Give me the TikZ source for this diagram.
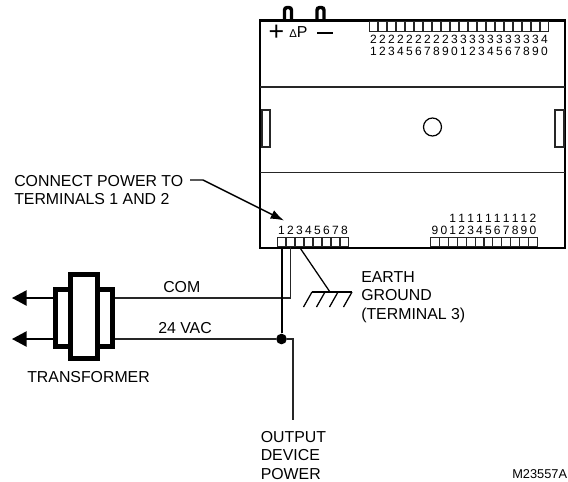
\documentclass[tikz,border=0pt]{standalone}
\usepackage{fontspec}
\setmainfont{Liberation Sans}
\usetikzlibrary{arrows.meta}
\tikzset{
    label/.style={inner sep=0pt, align=left, anchor=west, font=\fontsize{11.9pt}{13.8pt}\selectfont},
    digit/.style={inner sep=0pt, font=\fontsize{9pt}{11pt}\selectfont},
    term/.style={draw=black!85, line width=0.7pt, minimum width=6.6pt, minimum height=7pt, inner sep=0pt},
    case/.style={line width=2pt},
    wire/.style={line width=1.1pt, black!85},
    feed/.style={line width=1.5pt},
    port/.style={line width=2.6pt, rounded corners=2pt},
    coil/.style={draw, line width=3.75pt, inner sep=0pt},
    tip/.style={-{Triangle[length=11pt,width=11.5pt]}, line width=1.1pt}
}
\begin{document}
\begin{tikzpicture}[x=0.75pt,y=-0.75pt]
    \useasboundingbox (0,0) rectangle (568,482);

    % housing
    \coordinate (nw) at (260,20.5);
    \coordinate (ne) at (565,20.5);
    \coordinate (sw) at (260,248);
    \coordinate (se) at (565,248);
    \draw[case] (sw) -- (nw) -- (ne) -- (se) -- cycle;
    \draw[wire] (260,87) -- (565,87);
    \draw[wire] (260,172.5) -- (565,172.5);
    \draw[wire] (262,110) rectangle (270,147);
    \draw[wire] (555,110) rectangle (564,147);
    \node[draw, circle, line width=0.9pt, minimum size=13.5pt, inner sep=0pt] at (432.5,127) (knob) {};

    % pressure ports
    \draw[port] (284.5,20) -- (284.5,7.5) -- (291.5,7.5) -- (291.5,20);
    \draw[port] (317,20) -- (317,7.5) -- (324,7.5) -- (324,20);
    \node[inner sep=0pt, font=\fontsize{20pt}{20pt}\selectfont] at (276.5,33) (plus) {+};
    \node[inner sep=0pt, font=\fontsize{11.9pt}{13pt}\selectfont] at (298.5,32.5) (dp) {{\fontsize{8.5pt}{10pt}\selectfont Δ}P};
    \draw[line width=2.2pt] (317,33) -- (333,33);

    % top terminals
    \foreach \i/\a/\b in {0/2/1,1/2/2,2/2/3,3/2/4,4/2/5,5/2/6,6/2/7,7/2/8,8/2/9,9/3/0,
                          10/3/1,11/3/2,12/3/3,13/3/4,14/3/5,15/3/6,16/3/7,17/3/8,18/3/9,19/4/0} {
        \node[term] at ({373.5+9*\i},26.5) (t\i) {};
        \node[digit] at ({373.5+9*\i},39) (ta\i) {\a};
        \node[digit] at ({373.5+9*\i},51.5) (tb\i) {\b};
    }

    % bottom terminals
    \foreach \i in {1,...,8} {
        \node[term] at ({272.5+9*\i},242) (b\i) {};
        \node[digit] at ({272.5+9*\i},230.5) (n\i) {\i};
    }
    \foreach \i/\a/\b in {0//9,1//0,2/1/1,3/1/2,4/1/3,5/1/4,6/1/5,7/1/6,8/1/7,9/1/8,10/1/9,11/2/0} {
        \node[term] at ({435+8.9*\i},242) (c\i) {};
        \node[digit] at ({435+8.9*\i},230.5) (m\i) {\b};
        \node[digit] at ({435+8.9*\i},218) (k\i) {\a};
    }

    % transformer
    \node[coil, minimum width=42.75pt, minimum height=42.75pt] at (84,318) (side) {};
    \node[coil, fill=white, minimum width=20.25pt, minimum height=63pt] at (84,316.5) (core) {};
    \coordinate (lcom) at (53,298);
    \coordinate (lvac) at (53,339);
    \coordinate (rcom) at (115,298);
    \coordinate (rvac) at (115,339);
    \coordinate (tipcom) at (12,298);
    \coordinate (tipvac) at (12,339);
    \draw[tip] (lcom) -- (tipcom);
    \draw[tip] (lvac) -- (tipvac);

    % wiring
    \node[fill, circle, inner sep=0pt, minimum size=8pt] at (281.5,339) (dot) {};
    \draw[wire] (rcom) -| (b2.south);
    \draw[wire] (rvac) -- (dot);
    \coordinate (out) at (293,420);
    \draw[wire] (dot) -| (out);
    \draw[feed] (b1.south) -- (dot);

    % earth ground
    \coordinate (gnd) at (330,292);
    \draw[line width=0.95pt] (b3.south) -- (gnd);
    \draw[line width=0.95pt] (312,292) -- (352,292);
    \foreach \x in {312,325,338,352} {
        \draw[line width=0.95pt] (\x,292) -- ({\x-8.5},307);
    }

    % callout
    \coordinate (bend) at (203,180);
    \draw[-{Latex[length=10pt,width=7pt]}, line width=1.1pt] (190,180) -- (bend) -- (284,220.5);

    % labels
    \node[label] at (14,190) (conn) {CONNECT POWER TO\\TERMINALS 1 AND 2};
    \node[label] at (163,287) (com) {COM};
    \node[label] at (158,328) (vac) {24 VAC};
    \node[label] at (27,377.5) (xfmr) {TRANSFORMER};
    \node[label] at (361,297) (earth) {EARTH\\GROUND\\(TERMINAL 3)};
    \node[label] at (260.5,455.5) (outp) {OUTPUT\\DEVICE\\POWER};
    \node[label, font=\fontsize{9.6pt}{11pt}\selectfont] at (512,474) (code) {M23557A};
\end{tikzpicture}
\end{document}
